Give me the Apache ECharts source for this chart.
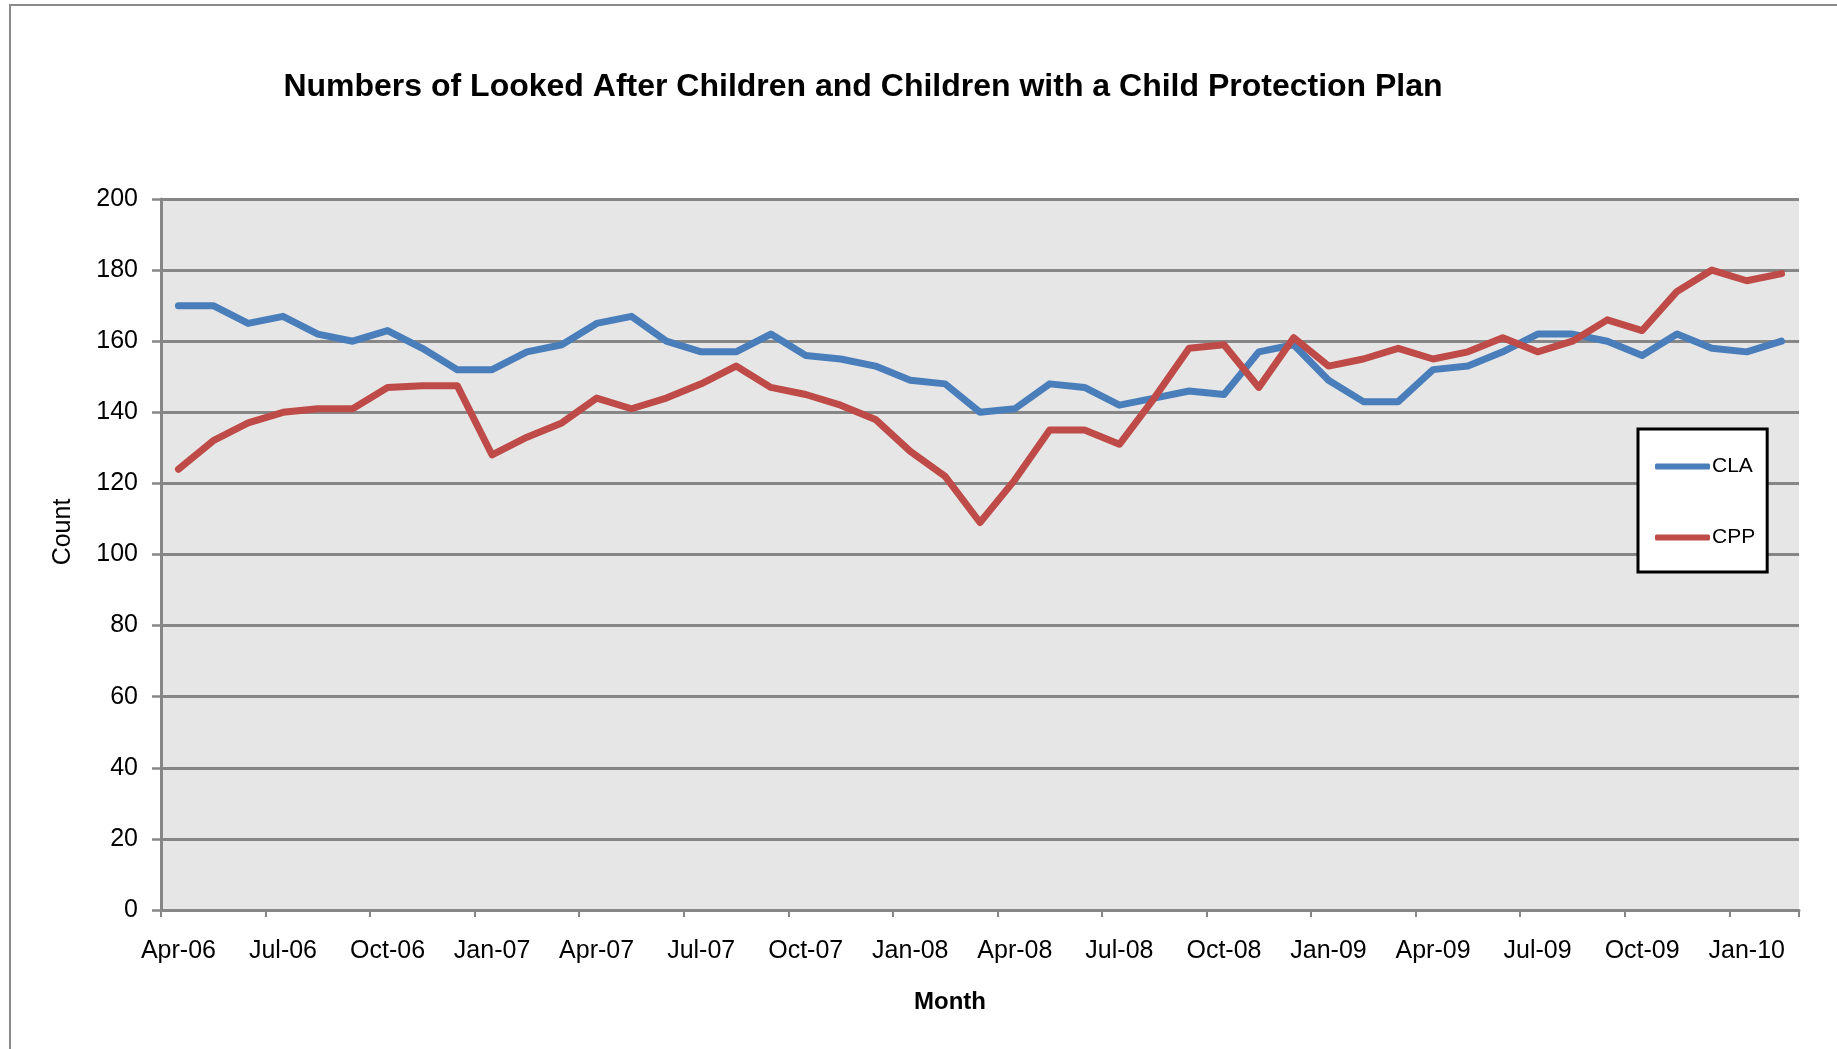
<!DOCTYPE html>
<html>
<head>
<meta charset="utf-8">
<title>Looked After Children / Child Protection Plan</title>
<script src="https://cdn.jsdelivr.net/npm/echarts@6.0.0/dist/echarts.min.js"></script>
<style>
    html, body { margin: 0; padding: 0; background: #fff; }
    #chart { width: 1837px; height: 1049px; }
</style>
</head>
<body>
<div id="chart"></div>
<script>
// months, Apr-06 .. Feb-10 (labels shown every 3rd month)
const months = [
    'Apr-06', 'May-06', 'Jun-06', 'Jul-06', 'Aug-06', 'Sep-06', 'Oct-06', 'Nov-06', 'Dec-06',
    'Jan-07', 'Feb-07', 'Mar-07', 'Apr-07', 'May-07', 'Jun-07', 'Jul-07', 'Aug-07', 'Sep-07',
    'Oct-07', 'Nov-07', 'Dec-07', 'Jan-08', 'Feb-08', 'Mar-08', 'Apr-08', 'May-08', 'Jun-08',
    'Jul-08', 'Aug-08', 'Sep-08', 'Oct-08', 'Nov-08', 'Dec-08', 'Jan-09', 'Feb-09', 'Mar-09',
    'Apr-09', 'May-09', 'Jun-09', 'Jul-09', 'Aug-09', 'Sep-09', 'Oct-09', 'Nov-09', 'Dec-09',
    'Jan-10', 'Feb-10'
]

// looked after children
const cla = [
    170, 170, 165, 167, 162, 160, 163, 158, 152, 152, 157, 159, 165, 167, 160, 157,
    157, 162, 156, 155, 153, 149, 148, 140, 141, 148, 147, 142, 144, 146, 145,
    157, 159, 149, 143, 143, 152, 153, 157, 162, 162, 160, 156, 162, 158, 157, 160
]

// children with a child protection plan
const cpp = [
    124, 132, 137, 140, 141, 141, 147, 147.5, 147.5, 128, 133, 137, 144, 141, 144, 148,
    153, 147, 145, 142, 138, 129, 122, 109, 121, 135, 135, 131, 144, 158, 159,
    147, 161, 153, 155, 158, 155, 157, 161, 157, 160, 166, 163, 174, 180, 177, 179
]

const yTicks = [0, 20, 40, 60, 80, 100, 120, 140, 160, 180, 200]

const font = '"Liberation Sans", Arial, sans-serif'
const gridGrey = '#868686'

const myChart = echarts.init(document.getElementById('chart'))

const option = {
    animation: false,
    backgroundColor: '#ffffff',
    title: [
        {
            text: 'Numbers of Looked After Children and Children with a Child Protection Plan',
            left: 858,
            top: 66,
            textAlign: 'center',
            textStyle: { fontFamily: font, fontSize: 32, fontWeight: 'bold', color: '#000' }
        },
        {
            // axis title, sits a bit left of the plot centre like the original
            text: 'Month',
            left: 945,
            top: 985,
            textAlign: 'center',
            textStyle: { fontFamily: font, fontSize: 24, fontWeight: 'bold', color: '#000' }
        }
    ],
    grid: {
        left: 161,
        right: 38,
        top: 199,
        bottom: 139,
        show: true,
        backgroundColor: '#e6e6e6',
        borderWidth: 0
    },
    legend: {
        orient: 'vertical',
        left: 1638,
        top: 429,
        padding: [27, 12, 24, 17],
        itemGap: 50,
        itemWidth: 55,
        itemHeight: 6,
        icon: 'roundRect',
        backgroundColor: '#ffffff',
        borderColor: '#000000',
        borderWidth: 3,
        textStyle: { fontFamily: font, fontSize: 21, color: '#000', padding: [0, 0, 0, -3] },
        data: ['CLA', 'CPP']
    },
    xAxis: {
        type: 'category',
        data: months,
        boundaryGap: true,
        axisLine: { lineStyle: { color: gridGrey, width: 3 } },
        axisTick: { show: true, interval: 2, length: 7, lineStyle: { color: gridGrey, width: 2 } },
        axisLabel: {
            interval: 2,
            margin: 29,
            fontFamily: font,
            fontSize: 25,
            color: '#000'
        },
        splitLine: { show: false }
    },
    yAxis: {
        type: 'value',
        min: yTicks[0],
        max: yTicks[yTicks.length - 1],
        interval: 20,
        axisLine: { show: true, lineStyle: { color: gridGrey, width: 3 } },
        axisTick: { show: true, length: 9, lineStyle: { color: gridGrey, width: 2.5 } },
        axisLabel: { margin: 23, fontFamily: font, fontSize: 25, color: '#000' },
        splitLine: { lineStyle: { color: gridGrey, width: 3 } }
    },
    graphic: [
        {
            // outer chart frame
            type: 'rect',
            silent: true,
            shape: { x: 10, y: 5, width: 1900, height: 1100 },
            style: { fill: 'none', stroke: '#8a8a8a', lineWidth: 2 }
        },
        {
            type: 'text',
            x: 63,
            y: 532,
            rotation: Math.PI / 2,
            style: {
                text: 'Count',
                fontFamily: font,
                fontSize: 25,
                fill: '#000',
                align: 'center',
                verticalAlign: 'middle'
            }
        }
    ],
    series: [
        {
            name: 'CLA',
            type: 'line',
            data: cla,
            symbol: 'none',
            color: '#4a7ebb',
            lineStyle: { width: 7, color: '#4a7ebb', cap: 'round', join: 'round' }
        },
        {
            name: 'CPP',
            type: 'line',
            data: cpp,
            symbol: 'none',
            color: '#be4b48',
            lineStyle: { width: 7, color: '#be4b48', cap: 'round', join: 'round' }
        }
    ]
}

option && myChart.setOption(option)
</script>
</body>
</html>
